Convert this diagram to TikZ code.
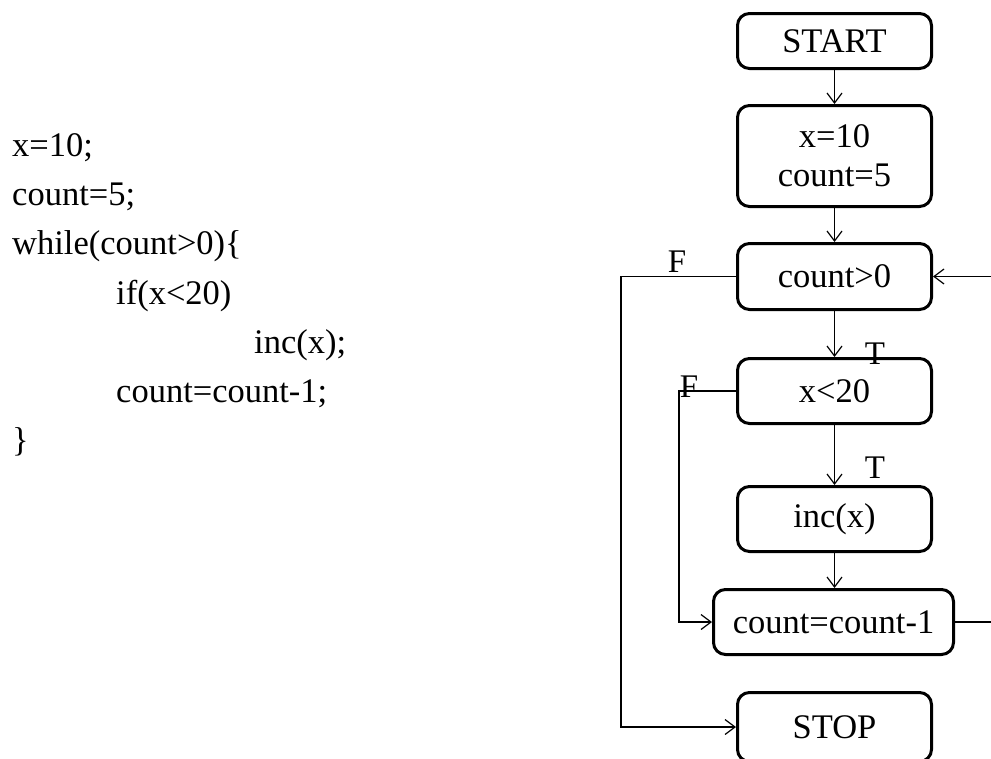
\documentclass[tikz,border=0pt]{standalone}
\usepackage{fontspec}
\setmainfont{Liberation Serif}
\usetikzlibrary{arrows.meta}
\begin{document}
\begin{tikzpicture}[x=1pt,y=-1pt,
  txt/.style={font=\fontsize{34.5}{39}\selectfont, inner sep=0pt},
  box/.style={draw, line width=3pt, rounded corners=12pt, txt, align=center,
    minimum width=194pt},
  conn/.style={line width=1.2pt, -{Straight Barb[length=10pt,width=15pt,line width=1.2pt]}},
  code/.style={txt, anchor=base west},
  lbl/.style={font=\fontsize{33}{39}\selectfont, inner sep=0pt}]
\useasboundingbox (0,0) rectangle (991,758);

% source listing
\node[code] (c1) at (12,156) {x=10;};
\node[code] (c2) at (12,205) {count=5;};
\node[code] (c3) at (12,254) {while(count>0)\{};
\node[code] (c4) at (116,304) {if(x<20)};
\node[code] (c5) at (254,353) {inc(x);};
\node[code] (c6) at (116,402) {count=count-1;};
\node[code] (c7) at (12,451) {\}};

% flowchart boxes
\node[box, minimum height=55pt]  (start) at (834.5,41)  {START};
\node[box, minimum height=101pt] (init)  at (834.5,156) {x=10\\count=5};
\node[box, minimum height=66pt]  (cond)  at (834.5,276.5) {count>0};
\node[box, minimum height=65pt]  (ifx)   at (834.5,391) {x<20};
\node[box, minimum height=65pt]  (inc)   at (834.5,519) {inc(x)};
\node[box, minimum height=65pt, minimum width=240pt] (dec) at (833.5,622) {count=count-1};
\node[box, minimum height=69pt]  (stop)  at (834.5,727) {STOP};

% routing points
\coordinate (fl) at (621,276.5);
\coordinate (fi) at (679,391);
\coordinate (rb) at (992.5,622);

% straight flow
\draw[conn] (start) -- (init);
\draw[conn] (init) -- (cond);
\draw[conn] (cond) -- (ifx);
\draw[conn] (ifx) -- (inc);
\draw[conn] (inc.south) -- (inc.south |- dec.north);

% branches
\draw[conn] (cond.west) -- (fl) |- (stop.west);
\draw[conn] (ifx.west) -- (fi) |- (dec.west);
\draw[conn] (dec.east) -- (rb) |- (cond.east);

% branch labels
\node[lbl] (f1) at (677,262) {F};
\node[lbl] (t1) at (875,354) {T};
\node[lbl] (f2) at (689,387) {F};
\node[lbl] (t2) at (875,468) {T};
\end{tikzpicture}
\end{document}
